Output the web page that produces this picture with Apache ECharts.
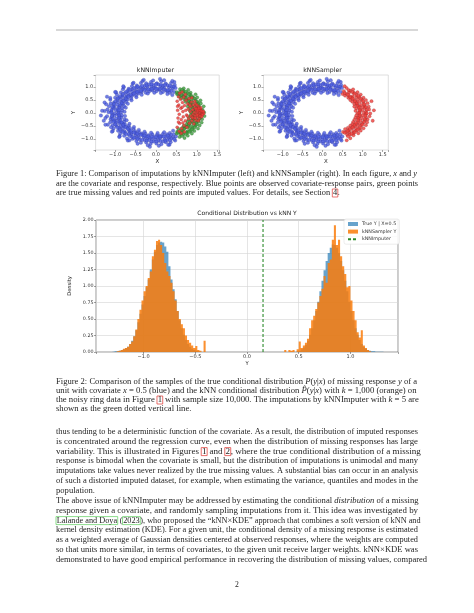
<!DOCTYPE html>
<html>
<head>
<meta charset="utf-8">
<script src="https://cdn.jsdelivr.net/npm/echarts@6/dist/echarts.min.js"></script>
<style>
  html, body { margin: 0; padding: 0; background: #fff; }
  #page { width: 474px; height: 613px; }
</style>
</head>
<body>
<div id="page"></div>
<script>
// ---------- data ----------

// observed (x, y) pairs, blue in both panels
const observed = [
  [0.34,0.77],[0.41,0.93],[0.46,1.07],[0.27,0.83],[0.32,0.98],[0.37,1.14],
  [0.17,0.80],[0.20,0.96],[0.24,1.12],[0.09,0.88],[0.11,1.03],[0.13,1.21],
  [0.01,0.83],[-0.02,0.97],[0.02,1.13],[-0.09,0.86],[-0.11,1.01],[-0.12,1.18],
  [-0.17,0.82],[-0.21,1.00],[-0.24,1.13],[-0.25,0.77],[-0.31,0.94],[-0.37,1.14],
  [-0.35,0.80],[-0.42,0.94],[-0.47,1.05],[-0.43,0.74],[-0.49,0.85],[-0.59,1.02],
  [-0.49,0.67],[-0.59,0.82],[-0.67,0.92],[-0.59,0.65],[-0.68,0.76],[-0.81,0.90],
  [-0.61,0.55],[-0.72,0.65],[-0.86,0.78],[-0.70,0.51],[-0.83,0.61],[-0.96,0.70],
  [-0.73,0.42],[-0.86,0.50],[-1.00,0.58],[-0.80,0.35],[-0.93,0.41],[-1.12,0.50],
  [-0.78,0.25],[-0.95,0.31],[-1.11,0.36],[-0.83,0.18],[-1.02,0.22],[-1.15,0.25],
  [-0.83,0.09],[-0.98,0.10],[-1.19,0.13],[-0.86,0.01],[-1.01,-0.02],[-1.16,0.02],
  [-0.84,-0.09],[-1.02,-0.11],[-1.20,-0.13],[-0.85,-0.18],[-0.97,-0.21],[-1.11,-0.24],
  [-0.77,-0.25],[-0.97,-0.32],[-1.12,-0.36],[-0.78,-0.35],[-0.90,-0.40],[-1.06,-0.47],
  [-0.76,-0.44],[-0.87,-0.51],[-1.04,-0.60],[-0.67,-0.49],[-0.81,-0.59],[-0.93,-0.68],
  [-0.64,-0.58],[-0.77,-0.70],[-0.88,-0.80],[-0.55,-0.61],[-0.65,-0.72],[-0.78,-0.87],
  [-0.51,-0.70],[-0.60,-0.83],[-0.71,-0.98],[-0.42,-0.73],[-0.50,-0.86],[-0.57,-0.99],
  [-0.35,-0.79],[-0.42,-0.94],[-0.48,-1.08],[-0.26,-0.79],[-0.30,-0.93],[-0.37,-1.14],
  [-0.18,-0.86],[-0.21,-0.99],[-0.24,-1.13],[-0.09,-0.82],[-0.10,-1.00],[-0.13,-1.18],
  [0.02,-0.85],[-0.01,-1.02],[0.01,-1.17],[0.09,-0.87],[0.10,-0.97],[0.13,-1.20],
  [0.17,-0.81],[0.21,-1.01],[0.24,-1.12],[0.27,-0.82],[0.31,-0.95],[0.36,-1.12],
  [0.34,-0.77],[0.42,-0.93],[0.47,-1.06],
  [0.33,0.87],[0.39,1.01],[0.24,0.88],[0.28,1.06],[0.15,0.94],[0.17,1.05],
  [0.05,0.92],[0.06,1.09],[-0.05,0.94],[-0.06,1.07],[-0.14,0.90],[-0.17,1.09],
  [-0.24,0.90],[-0.28,1.04],[-0.34,0.89],[-0.38,0.99],[-0.42,0.82],[-0.49,0.97],
  [-0.51,0.79],[-0.58,0.90],[-0.57,0.71],[-0.69,0.85],[-0.66,0.66],[-0.76,0.76],
  [-0.74,0.60],[-0.82,0.67],[-0.77,0.50],[-0.91,0.59],[-0.84,0.43],[-0.95,0.49],
  [-0.85,0.33],[-1.03,0.39],[-0.90,0.24],[-1.04,0.28],[-0.94,0.15],[-1.05,0.17],
  [-0.92,0.05],[-1.09,0.06],[-0.94,-0.05],[-1.07,-0.06],[-0.90,-0.14],[-1.09,-0.17],
  [-0.90,-0.24],[-1.04,-0.28],[-0.89,-0.34],[-0.99,-0.38],[-0.82,-0.42],[-0.97,-0.49],
  [-0.79,-0.51],[-0.90,-0.58],[-0.71,-0.57],[-0.85,-0.69],[-0.66,-0.66],[-0.76,-0.76],
  [-0.60,-0.74],[-0.67,-0.82],[-0.50,-0.77],[-0.59,-0.91],[-0.43,-0.84],[-0.49,-0.95],
  [-0.33,-0.85],[-0.39,-1.03],[-0.24,-0.90],[-0.28,-1.04],[-0.15,-0.94],[-0.17,-1.05],
  [-0.05,-0.92],[-0.06,-1.09],[0.05,-0.94],[0.06,-1.07],[0.14,-0.90],[0.17,-1.09],
  [0.24,-0.90],[0.28,-1.04],[0.34,-0.89],[0.38,-0.99],
  [0.38,0.84],[0.44,1.00],[0.29,0.87],[0.34,1.04],[0.19,0.90],[0.22,1.07],
  [0.10,0.91],[0.12,1.08],[0.00,0.92],[0.00,1.10],[-0.10,0.91],[-0.11,1.09],
  [-0.19,0.90],[-0.23,1.06],[-0.28,0.88],[-0.34,1.03],[-0.37,0.84],[-0.45,1.00],
  [-0.46,0.80],[-0.54,0.94],[-0.54,0.74],[-0.64,0.89],[-0.62,0.69],[-0.73,0.81],
  [-0.68,0.62],[-0.81,0.72],[-0.74,0.54],[-0.88,0.64],[-0.80,0.46],[-0.94,0.55],
  [-0.84,0.37],[-1.00,0.44],[-0.88,0.28],[-1.03,0.34],[-0.90,0.19],[-1.07,0.23],
  [-0.91,0.10],[-1.09,0.11],[-0.92,-0.01],[-1.09,0.01],[-0.91,-0.10],[-1.08,-0.12],
  [-0.90,-0.19],[-1.06,-0.23],[-0.87,-0.29],[-1.04,-0.34],[-0.84,-0.37],[-1.00,-0.44],
  [-0.80,-0.46],[-0.95,-0.55],[-0.74,-0.54],[-0.88,-0.64],[-0.69,-0.61],[-0.81,-0.73],
  [-0.61,-0.68],[-0.73,-0.81],[-0.54,-0.75],[-0.64,-0.88],[-0.46,-0.80],[-0.54,-0.95],
  [-0.37,-0.84],[-0.45,-0.99],[-0.28,-0.87],[-0.34,-1.04],[-0.19,-0.90],[-0.23,-1.06],
  [-0.10,-0.91],[-0.11,-1.09],[0.00,-0.92],[0.01,-1.09],[0.10,-0.91],[0.11,-1.08],
  [0.19,-0.90],[0.23,-1.07],[0.29,-0.87],[0.34,-1.04],[0.37,-0.84],[0.45,-1.00],
  [0.45,1.18],[0.28,0.72],[0.20,1.25],[0.12,0.76],[-0.07,1.24],[-0.04,0.77],
  [-0.33,1.22],[-0.20,0.74],[-0.57,1.12],[-0.35,0.69],[-0.79,0.98],[-0.48,0.60],
  [-0.98,0.79],[-0.60,0.48],[-1.12,0.57],[-0.69,0.35],[-1.22,0.33],[-0.74,0.20],
  [-1.26,0.07],[-0.77,0.04],[-1.24,-0.20],[-0.76,-0.12],[-1.18,-0.45],[-0.72,-0.28],
  [-1.06,-0.69],[-0.65,-0.42],[-0.89,-0.89],[-0.54,-0.54],[-0.69,-1.06],[-0.42,-0.65],
  [-0.45,-1.18],[-0.28,-0.72],[-0.20,-1.24],[-0.12,-0.76],[0.07,-1.26],[0.04,-0.77],
  [0.33,-1.22],[0.20,-0.74],
  [0.45,0.80],[0.48,0.95],[0.44,-0.82],[0.49,-0.90],[0.40,0.68],[0.42,-0.68],
  [-1.32,0.08],[-1.28,-0.30],[-1.26,0.40],[-1.20,0.62],[-1.08,-0.72],[-0.55,1.15],
  [0.10,1.30],[-0.30,1.26],[-0.15,-1.30],[0.30,-1.22],[-0.65,-1.05],[-1.35,-0.10],
  [-1.00,0.80],[-1.10,-0.55],[-0.80,1.02],[0.40,1.22],[-1.24,-0.45],[-0.90,-0.92]
];

// true missing responses (x > 0.5), green
const trueMissing = [
  [0.52,0.71],[0.59,0.81],[0.68,0.94],[0.57,0.63],[0.68,0.76],[0.79,0.88],
  [0.62,0.56],[0.74,0.66],[0.85,0.77],[0.70,0.51],[0.83,0.61],[0.97,0.71],
  [0.73,0.42],[0.87,0.50],[1.01,0.59],[0.80,0.35],[0.90,0.40],[1.09,0.48],
  [0.78,0.25],[0.97,0.32],[1.10,0.36],[0.83,0.18],[0.99,0.21],[1.17,0.25],
  [0.83,0.09],[0.98,0.10],[1.14,0.12],[0.86,0.01],[1.02,-0.02],[1.18,0.02],
  [0.85,-0.09],[1.01,-0.11],[1.19,-0.12],[0.81,-0.17],[0.97,-0.21],[1.13,-0.24],
  [0.80,-0.26],[0.96,-0.31],[1.12,-0.37],[0.77,-0.34],[0.93,-0.41],[1.07,-0.48],
  [0.75,-0.44],[0.88,-0.51],[1.03,-0.60],[0.68,-0.50],[0.82,-0.59],[0.94,-0.69],
  [0.64,-0.58],[0.77,-0.70],[0.88,-0.79],[0.55,-0.61],[0.66,-0.74],[0.78,-0.87],
  [0.52,-0.72],[0.60,-0.82],[0.70,-0.96],
  [0.58,0.72],[0.68,0.84],[0.65,0.66],[0.77,0.76],[0.73,0.59],[0.84,0.68],
  [0.78,0.51],[0.91,0.59],[0.83,0.42],[0.97,0.49],[0.85,0.33],[1.03,0.39],
  [0.90,0.24],[1.04,0.28],[0.94,0.15],[1.05,0.17],[0.92,0.05],[1.09,0.06],
  [0.94,-0.05],[1.07,-0.06],[0.90,-0.14],[1.09,-0.17],[0.90,-0.24],[1.04,-0.28],
  [0.89,-0.34],[0.99,-0.38],[0.82,-0.42],[0.97,-0.49],[0.79,-0.51],[0.90,-0.58],
  [0.71,-0.57],[0.85,-0.69],[0.66,-0.66],[0.76,-0.76],[0.60,-0.74],[0.67,-0.82],
  [0.51,-0.79],[0.58,-0.92],[0.51,0.79],[0.59,0.91],
  [0.54,0.74],[0.64,0.88],[0.62,0.69],[0.73,0.81],[0.68,0.62],[0.81,0.72],
  [0.74,0.54],[0.88,0.64],[0.80,0.46],[0.94,0.55],[0.84,0.37],[1.00,0.44],
  [0.88,0.28],[1.03,0.34],[0.90,0.19],[1.07,0.23],[0.91,0.10],[1.09,0.11],
  [0.92,-0.01],[1.09,0.01],[0.91,-0.10],[1.08,-0.12],[0.90,-0.19],[1.06,-0.23],
  [0.87,-0.29],[1.04,-0.34],[0.84,-0.37],[1.00,-0.44],[0.80,-0.46],[0.95,-0.55],
  [0.74,-0.54],[0.88,-0.64],[0.69,-0.61],[0.81,-0.73],[0.61,-0.68],[0.73,-0.81],
  [0.54,-0.75],[0.64,-0.88]
];

// kNNImputer imputations (mean of 5 neighbours), red in left panel
const imputedKnnImputer = [
  [0.52,0.45],[0.53,0.10],[0.54,-0.20],[0.52,-0.55],[0.55,0.62],[0.56,0.30],
  [0.57,-0.05],[0.58,-0.40],[0.60,0.52],[0.61,0.18],[0.62,-0.25],[0.63,-0.60],
  [0.65,0.40],[0.66,0.05],[0.67,-0.15],[0.68,0.60],[0.69,-0.48],[0.70,0.28],
  [0.72,-0.30],[0.73,0.10],[0.74,0.48],[0.75,-0.08],[0.76,-0.55],[0.78,0.35],
  [0.79,0.15],[0.80,-0.22],[0.81,0.55],[0.82,-0.40],[0.84,0.05],[0.85,0.25],
  [0.86,-0.12],[0.87,0.42],[0.88,-0.30],[0.90,0.12],[0.91,-0.05],[0.92,0.30],
  [0.93,-0.20],[0.94,0.02],[0.95,0.20],[0.96,-0.10],[0.97,0.35],[0.98,-0.28],
  [0.99,0.08],[1.00,-0.02],[1.01,0.18],[1.02,-0.15],[1.03,0.05],[1.04,0.25],
  [1.05,-0.06],[1.06,-0.22],[1.07,0.12],[1.08,0.01],[1.09,0.15],[1.10,-0.10],
  [1.12,0.05],[1.13,-0.04],[1.15,0.02],[1.17,-0.02],[0.95,0.45],[0.93,-0.42],
  [0.88,0.58],[0.72,0.70],[0.70,-0.72],[0.64,0.80],[0.62,-0.78],[0.58,0.75],
  [0.57,-0.70],[0.53,0.25],[0.55,-0.35],[0.64,0.22],[0.66,-0.38],[0.77,-0.12],
  [0.83,0.30],[0.89,-0.18],[1.00,0.30],[1.04,-0.30],
  [1.11,0.08],[1.14,-0.08],[1.06,0.10],[1.02,0.12],[0.98,0.16],[0.96,-0.20],
  [1.08,-0.12],[1.10,0.20],[1.16,0.06],[1.12,-0.15],[1.05,0.18],[1.01,-0.08]
];

// kNNSampler imputations (draws from neighbours), red in right panel
const imputedKnnSampler = [
  [0.53,0.83],[0.60,0.95],[0.50,0.72],[0.56,0.66],[0.66,0.78],[0.76,0.90],
  [0.64,0.58],[0.75,0.64],[0.87,0.79],[0.69,0.49],[0.84,0.60],[0.95,0.70],
  [0.74,0.43],[0.88,0.51],[1.02,0.58],[0.79,0.34],[0.92,0.41],[1.08,0.49],
  [0.79,0.24],[0.96,0.30],[1.12,0.37],[0.84,0.17],[1.00,0.22],[1.15,0.24],
  [0.82,0.08],[0.99,0.11],[1.16,0.13],[0.87,-0.01],[1.03,0.01],[1.19,-0.02],
  [0.84,-0.10],[1.00,-0.10],[1.17,-0.13],[0.82,-0.18],[0.98,-0.20],[1.12,-0.25],
  [0.79,-0.27],[0.95,-0.30],[1.11,-0.36],[0.76,-0.35],[0.92,-0.42],[1.08,-0.47],
  [0.74,-0.43],[0.87,-0.50],[1.02,-0.59],[0.69,-0.49],[0.83,-0.60],[0.95,-0.68],
  [0.63,-0.57],[0.76,-0.69],[0.89,-0.78],[0.56,-0.62],[0.67,-0.75],[0.77,-0.86],
  [0.51,-0.73],[0.61,-0.83],[0.69,-0.97],
  [0.59,0.73],[0.69,0.85],[0.66,0.65],[0.78,0.77],[0.72,0.58],[0.85,0.69],
  [0.79,0.50],[0.92,0.60],[0.84,0.41],[0.98,0.50],[0.86,0.32],[1.02,0.38],
  [0.91,0.25],[1.05,0.27],[0.93,0.14],[1.06,0.18],[0.93,0.04],[1.08,0.05],
  [0.93,-0.06],[1.08,-0.05],[0.91,-0.15],[1.08,-0.18],[0.89,-0.23],[1.05,-0.29],
  [0.88,-0.35],[1.00,-0.39],[0.83,-0.43],[0.96,-0.48],[0.78,-0.52],[0.91,-0.59],
  [0.72,-0.58],[0.84,-0.68],[0.65,-0.67],[0.77,-0.77],[0.59,-0.73],[0.68,-0.83],
  [0.55,0.76],[0.65,0.87],[0.63,0.70],[0.74,0.80],[0.69,0.60],[0.80,0.73],
  [0.75,0.55],[0.89,0.65],[0.81,0.45],[0.95,0.54],[0.85,0.36],[1.01,0.45],
  [0.87,0.27],[1.04,0.33],[0.91,0.20],[1.08,0.22],[0.92,0.09],[1.10,0.12],
  [0.91,0.00],[1.10,-0.01],[0.92,-0.11],[1.07,-0.11],[0.89,-0.20],[1.05,-0.24],
  [0.88,-0.28],[1.03,-0.35],[0.83,-0.38],[0.99,-0.45],[0.79,-0.47],[0.94,-0.56],
  [0.75,-0.55],[0.87,-0.65],[0.68,-0.62],[0.80,-0.74],[0.62,-0.69],[0.72,-0.80],
  [0.55,-0.76],[0.63,-0.89],
  [1.28,0.10],[1.25,-0.30],[1.22,0.45],[0.55,1.02],[0.60,-1.05]
];

// histogram densities, bins of 0.02
const binWidth = 0.02;
const trueLeftStart = -1.30;
const trueLeft = [
  0.005,0.01,0.01,0.02,0.03,0.04,0.06,0.08,0.12,0.17,0.24,0.33,0.45,0.58,0.72,0.85,
  0.98,1.10,1.25,1.40,1.52,1.62,1.66,1.67,1.66,1.60,1.52,1.30,1.10,0.95,0.80,0.62,
  0.48,0.36,0.26,0.18,0.12,0.08,0.05,0.03,0.02,0.01
];
const trueRightStart = 0.48;
const trueRight = [
  0.01,0.02,0.04,0.07,0.11,0.17,0.26,0.36,0.48,0.62,0.76,0.92,1.08,1.24,1.38,1.50,
  1.58,1.63,1.62,1.58,1.50,1.38,1.24,1.08,0.92,0.76,0.62,0.48,0.36,0.26,0.18,0.12,
  0.08,0.05,0.03,0.02,0.01,0.01,0.005,0.005,0.005,0.003
];
const samplerLeftStart = -1.26;
const samplerLeft = [
  0.01,0.02,0.03,0.05,0.06,0.08,0.12,0.16,0.24,0.34,0.50,0.64,0.78,0.92,1.00,1.12,
  1.22,1.45,1.55,1.68,1.70,1.62,1.50,1.35,1.22,1.15,1.05,0.92,0.78,0.62,0.50,0.42,
  0.36,0.25,0.18,0.14,0.10,0.06,0.09,0.03,0.02,0.00,0.17
];
const samplerRightStart = 0.34;
const samplerRight = [
  0.00,0.03,0.00,0.03,0.02,0.03,0.00,0.04,0.16,0.06,0.10,0.14,0.20,0.36,0.48,0.55,
  0.65,0.75,0.85,0.96,1.15,1.05,1.35,1.40,1.70,1.92,1.62,1.70,1.45,1.30,1.18,0.98,
  1.00,0.78,0.62,0.48,0.30,0.22,0.33,0.10,0.06,0.03,0.01,0.00
];
const knnImputerY = 0.155;

const seriesNames = ['True Y | X=0.5', 'kNNSampler Y', 'kNNImputer'];

// page text, one entry per printed line
const caption1Lines = [
  'Figure 1: Comparison of imputations by kNNImputer (left) and kNNSampler (right). In each figure, {i|x} and {i|y}',
  'are the covariate and response, respectively. Blue points are observed covariate-response pairs, green points',
  'are true missing values and red points are imputed values. For details, see Section {r|4}.'
];
const caption2Lines = [
  'Figure 2: Comparison of the samples of the true conditional distribution {i|P}({i|y}|{i|x}) of missing response {i|y} of a',
  'unit with covariate {i|x} = 0.5 (blue) and the kNN conditional distribution {i|P\u0302}({i|y}|{i|x}) with {i|k} = 1,000 (orange) on',
  'the noisy ring data in Figure {r|1} with sample size 10,000. The imputations by kNNImputer with {i|k} = 5 are',
  'shown as the green dotted vertical line.'
];
const para1Lines = [
  'thus tending to be a deterministic function of the covariate. As a result, the distribution of imputed responses',
  'is concentrated around the regression curve, even when the distribution of missing responses has large',
  'variability. This is illustrated in Figures {r|1} and {r|2}, where the true conditional distribution of a missing',
  'response is bimodal when the covariate is small, but the distribution of imputations is unimodal and many',
  'imputations take values never realized by the true missing values. A substantial bias can occur in an analysis',
  'of such a distorted imputed dataset, for example, when estimating the variance, quantiles and modes in the',
  'population.'
];
const para2Lines = [
  'The above issue of kNNImputer may be addressed by estimating the conditional {i|distribution} of a missing',
  'response given a covariate, and randomly sampling imputations from it. This idea was investigated by',
  '{g|Lalande and Doya} ({g|2023}), who proposed the \u201ckNN\u00d7KDE\u201d approach that combines a soft version of kNN and',
  'kernel density estimation (KDE). For a given unit, the conditional density of a missing response is estimated',
  'as a weighted average of Gaussian densities centered at observed responses, where the weights are computed',
  'so that units more similar, in terms of covariates, to the given unit receive larger weights. kNN\u00d7KDE was',
  'demonstrated to have good empirical performance in recovering the distribution of missing values, compared'
];
const pageNumber = '2';

// ---------- layout ----------
const sans = 'DejaVu Sans';
const serif = 'Liberation Serif';
const bodySize = 7.7;
const textLeft = 56, textWidth = 362;

const measureCtx = document.createElement('canvas').getContext('2d');
measureCtx.font = bodySize + 'px "' + serif + '"';
function plain(s) { return s.replace(/\{\w+\|([^}]*)\}/g, '$1'); }

const baseFont = { fontSize: bodySize, fontFamily: serif, fill: '#1e1e1e' };
const richStyles = {
  i: { ...baseFont, fontStyle: 'italic' },
  r: { ...baseFont, borderColor: '#e0403c', borderWidth: 0.7, padding: [0, 0.6] },
  g: { ...baseFont, borderColor: '#5fd05f', borderWidth: 0.7, padding: [0, 0.6] }
};

function textBlock(lines, y0, step) {
  const widths = lines.map(l => measureCtx.measureText(plain(l)).width);
  const full = widths.slice(0, -1).map(w => textWidth / w);
  const avg = full.reduce((a, b) => a + b, 0) / full.length;
  return lines.map((line, k) => ({
    type: 'text',
    x: textLeft,
    y: y0 + k * step,
    scaleX: k < lines.length - 1 ? full[k] : avg,
    style: { text: line, ...baseFont, verticalAlign: 'middle', rich: richStyles }
  }));
}

const graphics = [
  { type: 'line', shape: { x1: 56, y1: 30, x2: 418, y2: 30 }, style: { stroke: '#a8a8a8', lineWidth: 0.9 } },
  ...textBlock(caption1Lines, 174, 9.5),
  ...textBlock(caption2Lines, 382, 9),
  ...textBlock(para1Lines, 432, 9.8),
  ...textBlock(para2Lines, 501, 9.8),
  { type: 'text', x: 237, y: 585, style: { text: pageNumber, ...baseFont, align: 'center', verticalAlign: 'middle' } },
  { type: 'text', x: 155.5, y: 70.5, style: { text: 'kNNImputer', fontSize: 6.2, fontFamily: sans, fill: '#222', align: 'center', verticalAlign: 'middle' } },
  { type: 'text', x: 322.5, y: 70.5, style: { text: 'kNNSampler', fontSize: 6.2, fontFamily: sans, fill: '#222', align: 'center', verticalAlign: 'middle' } },
  { type: 'text', x: 247, y: 213.5, style: { text: 'Conditional Distribution vs kNN Y', fontSize: 6, fontFamily: sans, fill: '#222', align: 'center', verticalAlign: 'middle' } }
];

const minus = s => s.replace('-', '\u2212');
const onGrid = (v, step) => Math.abs(v / step - Math.round(v / step)) < 1e-6;

function scatterAxes(gridIndex, xMin, xMax) {
  const tickLabel = { fontSize: 5, fontFamily: sans, color: '#333', margin: 2.5,
    formatter: v => onGrid(v, 0.5) ? minus(v.toFixed(1)) : '' };
  const tick = { show: true, length: 2, lineStyle: { color: '#555', width: 0.5 } };
  return {
    x: { type: 'value', gridIndex, min: xMin, max: xMax, splitNumber: 6,
      name: 'X', nameLocation: 'middle', nameGap: 8.5,
      nameTextStyle: { fontSize: 5.5, fontFamily: sans, color: '#222' },
      axisLine: { show: false, onZero: false }, axisTick: tick, axisLabel: tickLabel, splitLine: { show: false } },
    y: { type: 'value', gridIndex, min: -1.42, max: 1.45, splitNumber: 6,
      name: 'Y', nameLocation: 'middle', nameGap: 17,
      nameTextStyle: { fontSize: 5.5, fontFamily: sans, color: '#222' },
      axisLine: { show: false, onZero: false }, axisTick: tick, axisLabel: tickLabel, splitLine: { show: false } }
  };
}
const leftAxes = scatterAxes(0, -1.48, 1.55);
const rightAxes = scatterAxes(1, -1.48, 1.64);

const blueDot = { color: '#4b5de0', borderColor: '#2b3596', borderWidth: 0.3 };
const greenDot = { color: '#3f9f3f', borderColor: '#1f5a1f', borderWidth: 0.3 };
const redDot = { color: '#ef3d3a', borderColor: '#8a2020', borderWidth: 0.3 };

function stepPolygon(api, start, heights) {
  const pts = [api.coord([start, 0])];
  heights.forEach((h, i) => {
    pts.push(api.coord([start + i * binWidth, h]));
    pts.push(api.coord([start + (i + 1) * binWidth, h]));
  });
  pts.push(api.coord([start + heights.length * binWidth, 0]));
  return pts;
}
function histSeries(name, color, parts) {
  return {
    type: 'custom', name, xAxisIndex: 2, yAxisIndex: 2,
    itemStyle: { color },
    data: [[0, 0]],
    renderItem: (params, api) => ({
      type: 'group',
      children: parts.map(([start, heights]) => ({
        type: 'polygon',
        shape: { points: stepPolygon(api, start, heights) },
        style: { fill: color }
      }))
    })
  };
}

const histTick = { show: true, length: 2, lineStyle: { color: '#444', width: 0.5 } };
const histGrid = { show: true, lineStyle: { color: '#d4d4d4', width: 0.6 } };

const chart = echarts.init(document.getElementById('page'), null, { renderer: 'canvas' });

chart.setOption({
  animation: false,
  backgroundColor: '#fff',
  graphic: { elements: graphics },
  grid: [
    { left: 95.6, top: 75, width: 123.6, height: 75, show: true, borderColor: '#d6d6d6', borderWidth: 0.8 },
    { left: 263.5, top: 75, width: 124.8, height: 75, show: true, borderColor: '#d6d6d6', borderWidth: 0.8 },
    { left: 96, top: 220, width: 302, height: 132, show: true, borderColor: '#555', borderWidth: 0.6 }
  ],
  xAxis: [
    leftAxes.x, rightAxes.x,
    { type: 'value', gridIndex: 2, min: -1.46, max: 1.46, splitNumber: 6,
      name: 'Y', nameLocation: 'middle', nameGap: 9.5,
      nameTextStyle: { fontSize: 5.2, fontFamily: sans, color: '#222' },
      axisLine: { show: false, onZero: false }, axisTick: histTick,
      axisLabel: { fontSize: 5, fontFamily: sans, color: '#333', margin: 2.5,
        formatter: v => onGrid(v, 0.5) ? minus(v.toFixed(1)) : '' },
      splitLine: histGrid }
  ],
  yAxis: [
    leftAxes.y, rightAxes.y,
    { type: 'value', gridIndex: 2, min: 0, max: 2, interval: 0.25,
      name: 'Density', nameLocation: 'middle', nameGap: 17,
      nameTextStyle: { fontSize: 5.2, fontFamily: sans, color: '#222' },
      axisLine: { show: false, onZero: false }, axisTick: histTick,
      axisLabel: { fontSize: 4.8, fontFamily: sans, color: '#333', margin: 2.5,
        formatter: v => v.toFixed(2) },
      splitLine: histGrid }
  ],
  legend: {
    show: true, orient: 'vertical', left: 344, top: 219,
    itemWidth: 10, itemHeight: 4, itemGap: 2.6, padding: [2.5, 3, 2.5, 3],
    backgroundColor: 'rgba(255,255,255,0.85)', borderColor: '#d8d8d8', borderWidth: 0.5, borderRadius: 2,
    textStyle: { fontSize: 4.8, fontFamily: sans, color: '#333', padding: [0, 0, 0, -1] },
    data: [
      { name: seriesNames[0], icon: 'rect' },
      { name: seriesNames[1], icon: 'rect' },
      { name: seriesNames[2], itemStyle: { opacity: 0 } }
    ]
  },
  series: [
    { type: 'scatter', xAxisIndex: 0, yAxisIndex: 0, data: observed, symbolSize: 3.5, itemStyle: blueDot },
    { type: 'scatter', xAxisIndex: 0, yAxisIndex: 0, data: trueMissing, symbolSize: 3.3, itemStyle: greenDot },
    { type: 'scatter', xAxisIndex: 0, yAxisIndex: 0, data: imputedKnnImputer, symbolSize: 3, itemStyle: redDot },
    { type: 'scatter', xAxisIndex: 1, yAxisIndex: 1, data: observed, symbolSize: 3.5, itemStyle: blueDot },
    { type: 'scatter', xAxisIndex: 1, yAxisIndex: 1, data: imputedKnnSampler, symbolSize: 3.3, itemStyle: redDot },
    histSeries(seriesNames[0], 'rgba(31,119,180,0.68)', [[trueLeftStart, trueLeft], [trueRightStart, trueRight]]),
    histSeries(seriesNames[1], 'rgba(250,124,12,0.85)', [[samplerLeftStart, samplerLeft], [samplerRightStart, samplerRight]]),
    { type: 'line', name: seriesNames[2], xAxisIndex: 2, yAxisIndex: 2, symbol: 'none',
      data: [[knnImputerY, 0], [knnImputerY, 2]],
      itemStyle: { color: '#2a8a2a' },
      lineStyle: { color: '#2a8a2a', width: 1.1, type: [3, 2] } }
  ]
});
</script>
</body>
</html>
